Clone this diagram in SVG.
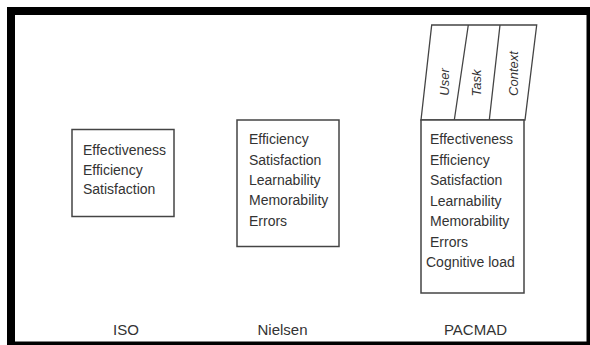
<svg xmlns="http://www.w3.org/2000/svg" width="590" height="345" viewBox="0 0 590 345">
<style>
.box{fill:#fff;stroke:#444;stroke-width:1.5}
.t{font-family:"Liberation Sans",Arial,sans-serif;font-size:14px;fill:#333}
.lab{font-family:"Liberation Sans",Arial,sans-serif;font-size:15px;fill:#333;text-anchor:middle}
.rot{font-family:"Liberation Sans",Arial,sans-serif;font-size:13px;font-style:italic;fill:#333;text-anchor:middle}
.ln{stroke:#444;stroke-width:1.3;fill:none}
</style>
<rect x="0" y="0" width="590" height="345" fill="#fff"/>
<rect x="7" y="7" width="583" height="338" fill="#000"/>
<rect x="15" y="15" width="571.5" height="326.5" fill="#fff"/>
<g id="iso">
<rect class="box" x="72" y="129.5" width="102" height="87"/>
<text class="t" x="83" y="155">Effectiveness</text>
<text class="t" x="83" y="174.5">Efficiency</text>
<text class="t" x="83" y="194">Satisfaction</text>
<text class="lab" x="126" y="335">ISO</text>
</g>
<g id="nielsen">
<rect class="box" x="237" y="120" width="102" height="126.5"/>
<text class="t" x="249" y="143.5">Efficiency</text>
<text class="t" x="249" y="164.5">Satisfaction</text>
<text class="t" x="249" y="185">Learnability</text>
<text class="t" x="249" y="205">Memorability</text>
<text class="t" x="249" y="225.5">Errors</text>
<text class="lab" x="282.5" y="335">Nielsen</text>
</g>
<g id="pacmad">
<path class="ln" d="M421,120 L431.7,25 L536.7,25 L525,120 Z"/>
<path class="ln" d="M454.3,120 L468.3,25 M489.3,120 L500,25"/>
<text class="rot" transform="translate(448.5,82) rotate(-90)">User</text>
<text class="rot" transform="translate(481,83) rotate(-90)">Task</text>
<text class="rot" transform="translate(517.5,73.5) rotate(-90)">Context</text>
<rect class="box" x="421" y="120" width="103" height="173"/>
<text class="t" x="430" y="144">Effectiveness</text>
<text class="t" x="430" y="165">Efficiency</text>
<text class="t" x="430" y="185">Satisfaction</text>
<text class="t" x="430" y="206">Learnability</text>
<text class="t" x="430" y="226">Memorability</text>
<text class="t" x="430" y="247">Errors</text>
<text class="t" x="426" y="267">Cognitive load</text>
<text class="lab" x="475.5" y="335">PACMAD</text>
</g>
<g id="connectors"></g>
</svg>
